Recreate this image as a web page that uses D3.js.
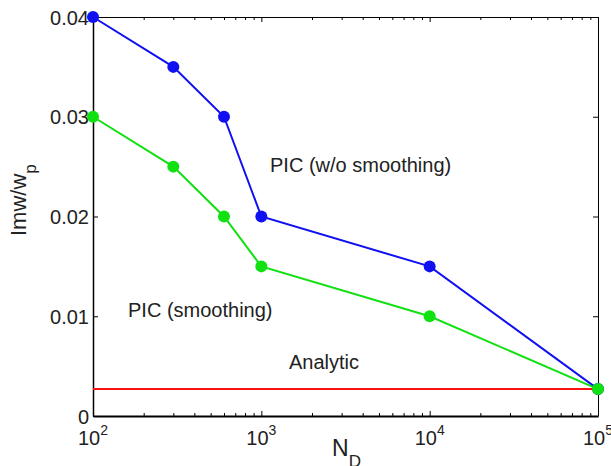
<!DOCTYPE html>
<html>
<head>
<meta charset="utf-8">
<script src="https://cdn.jsdelivr.net/npm/d3@7"></script>
<style>
  body { margin: 0; background: #fff; }
  svg { font-family: "Liberation Sans", Arial, sans-serif; }
</style>
</head>
<body>
<div id="chart"></div>
<script>
// Growth rate vs number of particles
const width = 611;
const height = 466;
const margin = { top: 17, right: 13, bottom: 50, left: 93 };

const nD = [100, 300, 600, 1000, 10000, 100000];
const noSmooth = [0.04, 0.035, 0.03, 0.02, 0.015, 0.0027];
const smooth = [0.03, 0.025, 0.02, 0.015, 0.01, 0.0027];
const analytic = 0.0027;
const xDecades = [100, 1000, 10000, 100000];
const yTicks = [0, 0.01, 0.02, 0.03, 0.04];
const yTickLabels = ['0', '0.01', '0.02', '0.03', '0.04'];

const svg = d3.select('#chart')
    .append('svg')
    .attr('width', width)
    .attr('height', height);

const x = d3.scaleLog().domain([100, 100000]).range([margin.left, width - margin.right]);
const y = d3.scaleLinear().domain([0, 0.04]).range([height - margin.bottom, margin.top]);

const allTicks = x.ticks();
const minorTicks = allTicks.filter(t => !xDecades.includes(t));

// frame + ticks (inside, matlab style)
function addX(axisFn, yPos, width) {
    const g = svg.append('g').attr('transform', `translate(0,${yPos})`);
    g.call(axisFn(x).tickValues(xDecades).tickSizeInner(-5).tickSizeOuter(0).tickFormat(''));
    g.append('g').call(axisFn(x).tickValues(minorTicks).tickSizeInner(-3).tickSizeOuter(0).tickFormat(''))
        .select('.domain').remove();
    g.select('.domain').attr('stroke-width', width);
    g.selectAll('line').attr('stroke', '#000');
    return g;
}
function addY(axisFn, xPos, width) {
    const g = svg.append('g').attr('transform', `translate(${xPos},0)`);
    g.call(axisFn(y).tickValues(yTicks).tickSizeInner(-5).tickSizeOuter(0).tickFormat(''));
    g.select('.domain').attr('stroke-width', width);
    return g;
}
addX(d3.axisTop, margin.top, 1);
addY(d3.axisRight, width - margin.right, 1);
addY(d3.axisLeft, margin.left, 1.5);
addX(d3.axisBottom, height - margin.bottom, 2.2);

// tick labels
svg.append('g').selectAll('text')
    .data(yTicks)
    .enter()
    .append('text')
    .attr('x', margin.left - 4)
    .attr('y', d => y(d) + 7.5)
    .attr('text-anchor', 'end')
    .attr('fill', '#222')
    .style('font-size', '20px')
    .text((d, i) => yTickLabels[i]);

const xl = svg.append('g').selectAll('text')
    .data(xDecades)
    .enter()
    .append('text')
    .attr('x', d => x(d) - 15)
    .attr('y', height - margin.bottom + 29)
    .attr('fill', '#222')
    .style('font-size', '20px');
xl.append('tspan').text('10');
xl.append('tspan')
    .attr('dy', -10)
    .style('font-size', '14px')
    .text(d => Math.round(Math.log10(d)));

// axis titles
const xt = svg.append('text')
    .attr('x', 332)
    .attr('y', 456)
    .attr('fill', '#222')
    .style('font-size', '23px');
xt.append('tspan').text('N');
xt.append('tspan').attr('dy', 11).style('font-size', '17px').text('D');

const yt = svg.append('text')
    .attr('transform', 'translate(26,236) rotate(-90)')
    .attr('fill', '#222')
    .style('font-size', '22px');
yt.append('tspan').text('Imw/w');
yt.append('tspan').attr('dy', 10).style('font-size', '17px').text('p');

// analytic line
svg.append('line')
    .attr('x1', x(100))
    .attr('x2', x(100000))
    .attr('y1', y(analytic))
    .attr('y2', y(analytic))
    .attr('stroke', '#ff1010')
    .attr('stroke-width', 2);

const line = d3.line().x(d => x(d[0])).y(d => y(d[1]));
const series = [
    { vals: noSmooth, color: '#1010f0' },
    { vals: smooth, color: '#11e011' }
];
series.forEach(s => {
    const pts = nD.map((n, i) => [n, s.vals[i]]);
    svg.append('path')
        .datum(pts)
        .attr('d', line)
        .attr('fill', 'none')
        .attr('stroke', s.color)
        .attr('stroke-width', 2);
    svg.append('g').selectAll('circle')
        .data(pts)
        .enter()
        .append('circle')
        .attr('cx', d => x(d[0]))
        .attr('cy', d => y(d[1]))
        .attr('r', 6)
        .attr('fill', s.color);
});

// annotations
const notes = [
    { text: 'PIC (w/o smoothing)', x: 270, y: 172 },
    { text: 'PIC (smoothing)', x: 128, y: 317 },
    { text: 'Analytic', x: 289, y: 369 }
];
svg.append('g').selectAll('text')
    .data(notes)
    .enter()
    .append('text')
    .attr('x', d => d.x)
    .attr('y', d => d.y)
    .attr('fill', '#222')
    .style('font-size', '20px')
    .text(d => d.text);
</script>
</body>
</html>
